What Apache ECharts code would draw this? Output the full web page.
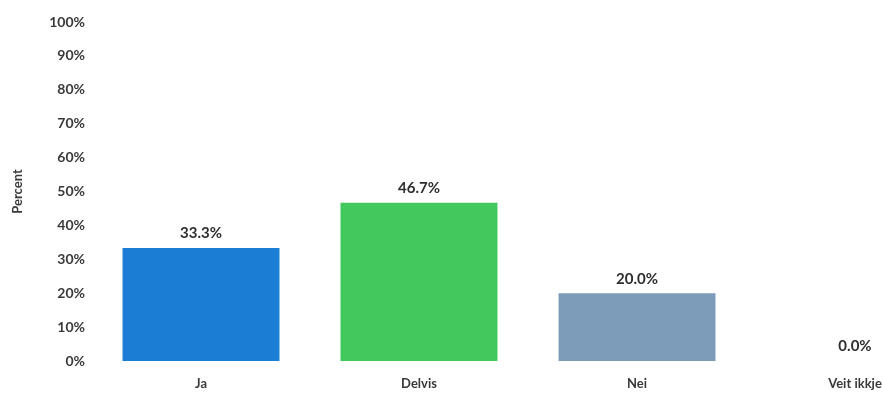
<!DOCTYPE html>
<html>
<head>
<meta charset="utf-8">
<script src="https://cdn.jsdelivr.net/npm/echarts@6/dist/echarts.min.js"></script>
<style>
  html, body { margin: 0; padding: 0; background: #ffffff; }
  #chart { width: 883px; height: 404px; }
</style>
</head>
<body>
<div id="chart"></div>
<script>
// Answer categories and their shares (percent)
const categories = ['Ja', 'Delvis', 'Nei', 'Veit ikkje'];
const percentValues = [33.3, 46.7, 20.0, 0.0];
const barColors = ['#1b7dd3', '#42c95e', '#7c9cba', '#a0a0a0'];
const yTicks = [0, 10, 20, 30, 40, 50, 60, 70, 80, 90, 100];

const fontFamily = 'Lato, "Open Sans", sans-serif';

const chart = echarts.init(document.getElementById('chart'));
chart.setOption({
  animation: false,
  backgroundColor: '#ffffff',
  // the last category band runs past the right edge of the canvas
  grid: { left: 92, top: 22, bottom: 43, width: 872, containLabel: false, outerBoundsMode: 'none' },
  xAxis: {
    type: 'category',
    data: categories,
    axisLine: { show: false },
    axisTick: { show: false },
    axisLabel: {
      margin: 16,
      color: '#3a3a3a',
      fontFamily: fontFamily,
      fontWeight: 'bold',
      fontSize: 13
    }
  },
  yAxis: {
    type: 'value',
    min: yTicks[0],
    max: yTicks[yTicks.length - 1],
    interval: 10,
    name: 'Percent',
    nameLocation: 'middle',
    nameGap: 68,
    nameTextStyle: {
      color: '#3a3a3a',
      fontFamily: fontFamily,
      fontWeight: 'bold',
      fontSize: 13
    },
    axisLine: { show: false },
    axisTick: { show: false },
    splitLine: { show: false },
    axisLabel: {
      margin: 7,
      color: '#3a3a3a',
      fontFamily: fontFamily,
      fontWeight: 'bold',
      fontSize: 14,
      formatter: v => v + '%'
    }
  },
  series: [{
    type: 'bar',
    barWidth: '72%',
    data: percentValues.map((v, i) => ({ value: v, itemStyle: { color: barColors[i] } })),
    label: {
      show: true,
      position: 'top',
      distance: 7,
      color: '#2e2e2e',
      fontFamily: fontFamily,
      fontWeight: 'bold',
      fontSize: 15,
      formatter: p => p.value.toFixed(1) + '%'
    }
  }]
});
</script>
</body>
</html>
